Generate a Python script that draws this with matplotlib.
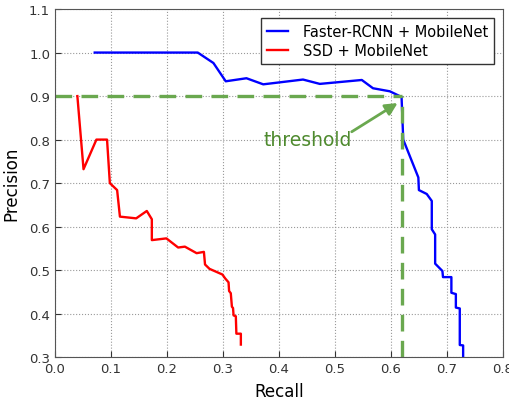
import matplotlib
matplotlib.use("Agg")
import matplotlib.pyplot as plt

# Faster-RCNN + MobileNet precision/recall curve
frcnn_recall = [0.071, 0.255, 0.283, 0.305, 0.342, 0.372, 0.443, 0.473, 0.548, 0.568,
                0.598, 0.619, 0.622, 0.649, 0.650, 0.664, 0.673, 0.673, 0.679, 0.679,
                0.692, 0.693, 0.708, 0.708, 0.716, 0.716, 0.723, 0.723, 0.729, 0.729]
frcnn_precision = [1.0, 1.0, 0.976, 0.934, 0.941, 0.927, 0.938, 0.928, 0.937, 0.918,
                   0.911, 0.898, 0.80, 0.713, 0.684, 0.675, 0.659, 0.594, 0.582, 0.515,
                   0.498, 0.484, 0.484, 0.448, 0.445, 0.414, 0.412, 0.328, 0.327, 0.29]

# SSD + MobileNet precision/recall curve
ssd_recall = [0.040, 0.051, 0.074, 0.093, 0.098, 0.111, 0.116, 0.145, 0.164, 0.173,
              0.173, 0.199, 0.220, 0.232, 0.253, 0.266, 0.268, 0.276, 0.299, 0.304,
              0.310, 0.311, 0.314, 0.316, 0.318, 0.319, 0.323, 0.324, 0.332, 0.332]
ssd_precision = [0.90, 0.732, 0.80, 0.80, 0.70, 0.684, 0.623, 0.619, 0.636, 0.617,
                 0.569, 0.573, 0.552, 0.554, 0.539, 0.542, 0.513, 0.503, 0.490, 0.481,
                 0.472, 0.452, 0.447, 0.416, 0.413, 0.396, 0.394, 0.354, 0.354, 0.329]

thr_recall = 0.62
thr_precision = 0.9

green = "#6aa84f"

fig = plt.figure(figsize=(5.09, 4.02), dpi=100)
ax = fig.add_axes([0.108, 0.109, 0.880, 0.866])

ax.plot(frcnn_recall, frcnn_precision, color="blue", lw=1.7, label="Faster-RCNN + MobileNet")
ax.plot(ssd_recall, ssd_precision, color="red", lw=1.7, label="SSD + MobileNet")

# threshold guide lines
ax.plot([0, thr_recall], [thr_precision, thr_precision], color=green, lw=2.4, ls=(0, (5, 2.8)))
ax.plot([thr_recall, thr_recall], [0.3, thr_precision], color=green, lw=2.4, ls=(0, (5, 2.8)))
ax.text(0.373, 0.80, "threshold", color="#4e8a2e", fontsize=13.5, ha="left", va="center")
ax.annotate("", xy=(0.612, 0.884), xytext=(0.53, 0.818),
            arrowprops=dict(arrowstyle="-|>", color=green, lw=2, mutation_scale=18,
                            shrinkA=0, shrinkB=0))

ax.set_xlim(0, 0.8)
ax.set_ylim(0.3, 1.1)
ax.set_xticks([0.0, 0.1, 0.2, 0.3, 0.4, 0.5, 0.6, 0.7, 0.8])
ax.set_yticks([0.3, 0.4, 0.5, 0.6, 0.7, 0.8, 0.9, 1.0, 1.1])
ax.grid(True, color="#999999", ls=":", lw=0.8)
ax.tick_params(direction="in", labelsize=9.5, colors="#333333", length=4)
for s in ax.spines.values():
    s.set_color("#555555")

ax.set_xlabel("Recall", fontsize=12, labelpad=5)
ax.set_ylabel("Precision", fontsize=12, labelpad=6)

leg = ax.legend(loc="upper right", fontsize=10.5, fancybox=False, framealpha=1,
                edgecolor="#333333", handlelength=1.5, handletextpad=1.0,
                borderpad=0.4, labelspacing=0.3, borderaxespad=0.6)
leg.get_frame().set_linewidth(1.0)

fig.savefig("out.png", dpi=100)
